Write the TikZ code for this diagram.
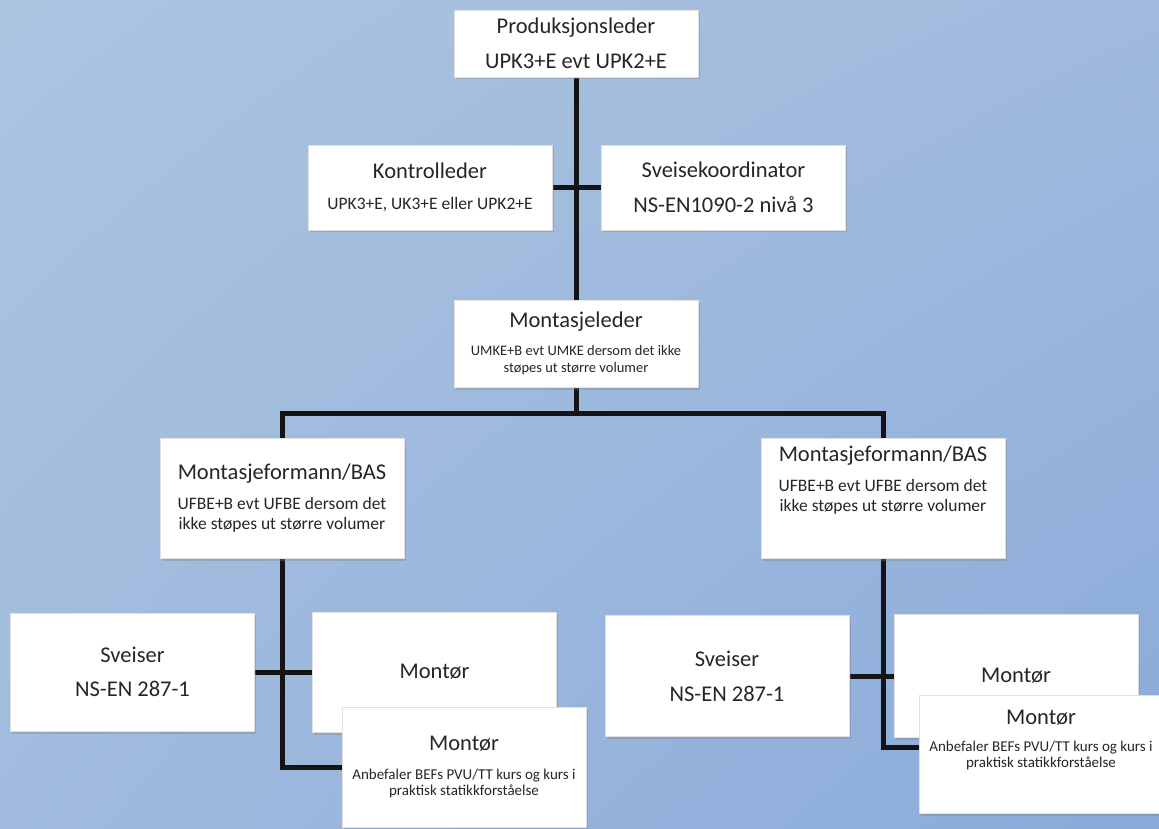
\documentclass[tikz,border=0pt]{standalone}
\usepackage{fontspec}
\setmainfont{Carlito}
\usetikzlibrary{backgrounds,shadows,shadings}
\definecolor{bgul}{RGB}{172,196,224}
\definecolor{bgur}{RGB}{160,186,222}
\definecolor{bgll}{RGB}{160,187,222}
\definecolor{bglr}{RGB}{138,170,218}
\newcommand{\notetxt}{\fontsize{17.5}{20}\selectfont}
\newcommand{\smalltxt}{\fontsize{14.5}{17}\selectfont}
\newcommand{\tinytxt}{\fontsize{15}{16}\selectfont}

\begin{document}
\begin{tikzpicture}[x=1pt,y=-1pt,
  box/.style={fill=white,draw=black!12,line width=0.5pt,inner sep=0pt,minimum width=244pt,align=center,text=black!85,
    drop shadow={shadow xshift=1.5pt,shadow yshift=-2.5pt,opacity=0.35}},
  head/.style={font=\fontsize{22.5}{#1}\selectfont},
  link/.style={line width=5pt,black!92}]
  \useasboundingbox (0,0) rectangle (1159,829);
  \node[box,head=35,minimum height=67pt] (prod) at (576,43.5) {Produksjonsleder\\UPK3+E evt UPK2+E};
  \node[box,head=31,minimum height=85pt] (kontr) at (430,187.5) {Kontrolleder\\\notetxt UPK3+E, UK3+E eller UPK2+E};
  \node[box,head=35,minimum height=85pt] (sveisk) at (723.5,187.5) {Sveisekoordinator\\NS-EN1090-2 nivå 3};
  \node[box,head=17,minimum height=87pt] (montl) at (576,343.5) {Montasjeleder\\[11pt]\smalltxt UMKE+B evt UMKE dersom det ikke\\\smalltxt støpes ut større volumer};
  \node[box,head=20,minimum height=120pt] (formL) at (282,498) {Montasjeformann/BAS\\[10pt]\notetxt UFBE+B evt UFBE dersom det\\\notetxt ikke støpes ut større volumer};
  \node[box,head=20,minimum height=120pt] (formR) at (883,498) {Montasjeformann/BAS\\[10pt]\notetxt UFBE+B evt UFBE dersom det\\\notetxt ikke støpes ut større volumer\\[18pt]\mbox{}};
  \node[box,head=34,minimum height=118pt] (sveiserL) at (132.5,672) {Sveiser\\NS-EN 287-1};
  \node[box,head=34,minimum height=120pt] (montorL) at (434.5,672) {Montør};
  \node[box,head=16,minimum height=120pt] (montorbL) at (464,767) {Montør\\[13pt]\tinytxt Anbefaler BEFs PVU/TT kurs og kurs i\\\tinytxt praktisk statikkforståelse};
  \node[box,head=35,minimum height=121pt] (sveiserR) at (727,676) {Sveiser\\NS-EN 287-1};
  \node[box,head=34,minimum height=123pt] (montorR) at (1016,676) {Montør};
  \node[box,head=16,minimum height=118pt] (montorbR) at (1041,754) {Montør\\[11pt]\tinytxt Anbefaler BEFs PVU/TT kurs og kurs i\\\tinytxt praktisk statikkforståelse\\[15pt]\mbox{}};
  \coordinate (split) at (576,413);
  \begin{scope}[on background layer]
    \shade[upper left=bgul,upper right=bgur,lower left=bgll,lower right=bglr] (0,0) rectangle (1159,829);
    \draw[link] (prod.south) -- (montl.north);
    \draw[link] (kontr.east) -- (sveisk.west);
    \draw[link] (montl.south) -- (split);
    \draw[link] (formL.north) |- (split) -| (formR.north);
    \draw[link] (formL.south) |- (montorbL.west);
    \draw[link] (sveiserL.east) -- (montorL.west);
    \draw[link] (formR.south) |- ([yshift=7pt]montorbR.west);
    \draw[link] (sveiserR.east) -- (montorR.west);
  \end{scope}
\end{tikzpicture}
\end{document}
